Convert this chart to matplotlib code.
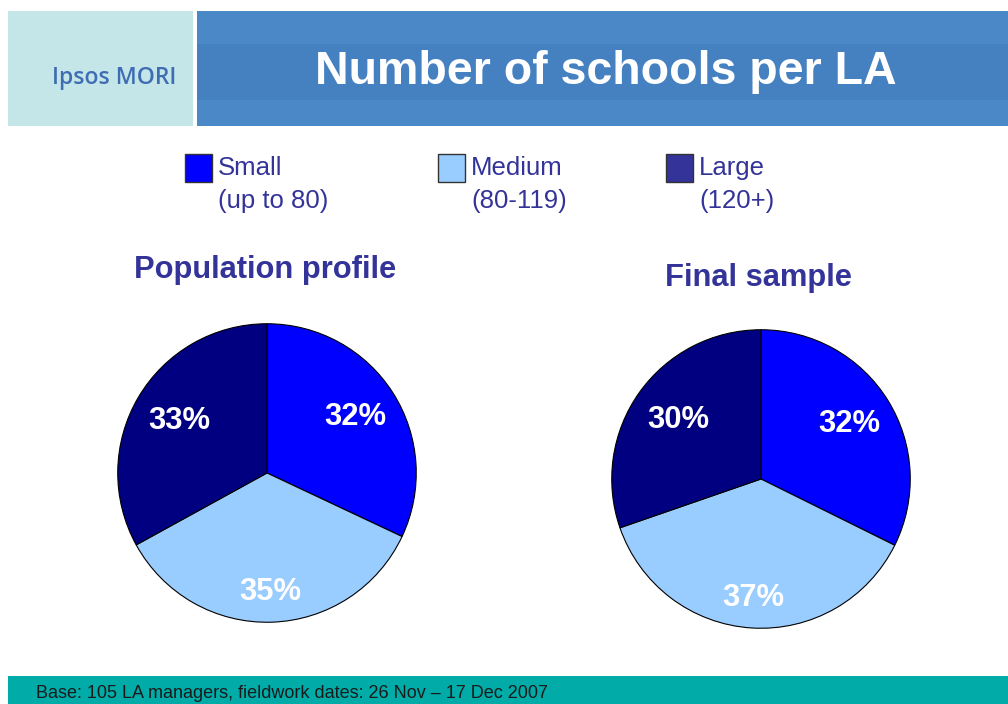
import matplotlib
matplotlib.use("Agg")
import numpy as np
import matplotlib.pyplot as plt
from matplotlib.patches import Rectangle

# Data
categories = ["Small", "Medium", "Large"]
category_ranges = ["(up to 80)", "(80-119)", "(120+)"]
population_profile = [32, 35, 33]
final_sample = [32, 37, 30]

W, H = 1008, 704
DPI = 100
fig = plt.figure(figsize=(W / DPI, H / DPI), dpi=DPI)
fig.patch.set_facecolor("white")

# Full-figure axes in pixel coordinates (y downwards) for the slide decoration
bg = fig.add_axes([0, 0, 1, 1])
bg.set_xlim(0, W)
bg.set_ylim(H, 0)
bg.axis("off")

FONT = "Liberation Sans"
TEXT_BLUE = "#333399"

# Header: logo panel and title band
bg.add_patch(Rectangle((8, 11), 185, 115, color="#C4E6E8", lw=0))
bg.add_patch(Rectangle((197, 11), W - 197, 115, color="#4A88C8", lw=0))
bg.add_patch(Rectangle((197, 44), W - 197, 56, color="#4580C1", lw=0))
bg.text(114, 78, "Ipsos MORI", family="Open Sans", weight="semibold", fontsize=16.5,
        color="#3F6DB3", ha="center", va="center")
bg.text(606, 72, "Number of schools per LA", family=FONT, weight="bold",
        fontsize=33.5, color="white", ha="center", va="center")

# Footer band
bg.add_patch(Rectangle((8, 676), W - 8, H - 676, color="#00ABA8", lw=0))
bg.text(36, 694, "Base: 105 LA managers, fieldwork dates: 26 Nov \u2013 17 Dec 2007",
        family=FONT, fontsize=13, color="#1a1a1a", ha="left", va="center")

# Colours
pie_colors = ["#0000FF", "#99CCFF", "#000080"]
legend_colors = ["#0000FF", "#99CCFF", "#333399"]

# Legend
legend_x = [185, 438, 666]
for x, name, rng, col in zip(legend_x, categories, category_ranges, legend_colors):
    bg.add_patch(Rectangle((x, 154), 27, 28, facecolor=col, edgecolor="#333333", lw=1))
    bg.text(x + 33, 168, name, family=FONT, fontsize=18.5, color=TEXT_BLUE,
            ha="left", va="center")
    bg.text(x + 33, 201, rng, family=FONT, fontsize=18.5, color=TEXT_BLUE,
            ha="left", va="center")

# Chart titles
bg.text(265, 270, "Population profile", family=FONT, weight="bold", fontsize=22.2,
        color=TEXT_BLUE, ha="center", va="center")
bg.text(758, 278, "Final sample", family=FONT, weight="bold", fontsize=22.2,
        color=TEXT_BLUE, ha="center", va="center")

label_dist = [0.7, 0.8, 0.68]


def draw_pie(cx, cy, r, values):
    ax = fig.add_axes([(cx - r) / W, 1 - (cy + r) / H, 2 * r / W, 2 * r / H])
    wedges, _ = ax.pie(values, colors=pie_colors, startangle=90, counterclock=False,
                       radius=1, wedgeprops=dict(edgecolor="black", linewidth=0.8))
    ax.set_xlim(-1.005, 1.005)
    ax.set_ylim(-1.005, 1.005)
    ax.set_aspect("equal")
    ax.axis("off")
    for w, v, d in zip(wedges, values, label_dist):
        ang = np.deg2rad((w.theta1 + w.theta2) / 2)
        ax.text(d * np.cos(ang), d * np.sin(ang), f"{v}%", family=FONT, weight="bold",
                fontsize=22.3, color="white", ha="center", va="center")


draw_pie(267, 473, 150, population_profile)
draw_pie(761, 479, 150, final_sample)

fig.savefig("out.png", dpi=DPI)
